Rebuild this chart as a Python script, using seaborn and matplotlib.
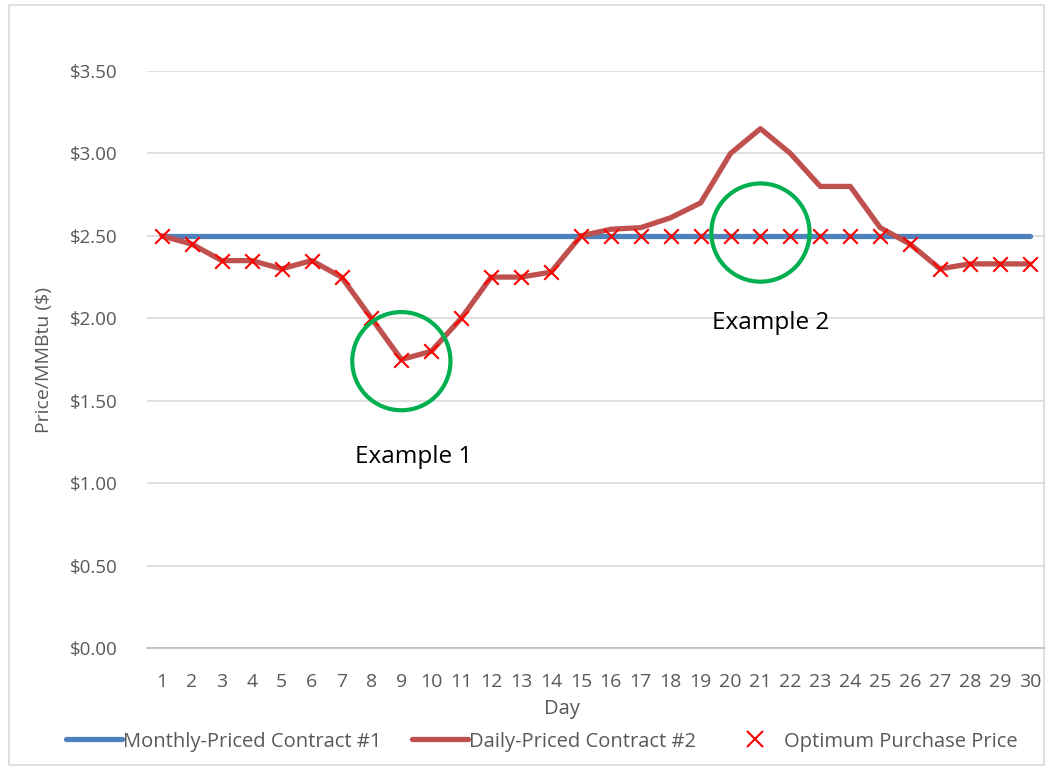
import seaborn as sns
import pandas as pd
import matplotlib.pyplot as plt
from matplotlib.lines import Line2D
from matplotlib.patches import Rectangle
from matplotlib.ticker import FuncFormatter

days = list(range(1, 31))
monthly_price = [2.50] * 30
daily_price = [2.50, 2.45, 2.35, 2.35, 2.30, 2.35, 2.25, 2.00, 1.75, 1.80,
               2.00, 2.25, 2.25, 2.28, 2.50, 2.54, 2.55, 2.61, 2.70, 3.00,
               3.15, 3.00, 2.80, 2.80, 2.55, 2.45, 2.30, 2.33, 2.33, 2.33]
optimum_price = [2.50, 2.45, 2.35, 2.35, 2.30, 2.35, 2.25, 2.00, 1.75, 1.80,
                 2.00, 2.25, 2.25, 2.28, 2.50, 2.50, 2.50, 2.50, 2.50, 2.50,
                 2.50, 2.50, 2.50, 2.50, 2.50, 2.45, 2.30, 2.33, 2.33, 2.33]
example_days = [9, 21]
example_prices = [1.74, 2.52]
example_labels = ["Example 1", "Example 2"]
label_pos = [(9.42, 1.16), (21.35, 1.97)]

df = pd.DataFrame({"Day": days, "Monthly": monthly_price,
                   "Daily": daily_price, "Optimum": optimum_price})

sns.set_theme(style="white")
plt.rcParams['font.family'] = ['Open Sans', 'DejaVu Sans']
text_col = "#595959"

fig = plt.figure(figsize=(10.5, 7.7), dpi=100)
ax = fig.add_axes([0.14, 0.1584, 0.855, 0.7494])

blue = "#4F81BD"
red = "#C0504D"
sns.lineplot(data=df, x="Day", y="Monthly", ax=ax, color=blue, linewidth=3.8,
             solid_capstyle="round", zorder=3)
sns.lineplot(data=df, x="Day", y="Daily", ax=ax, color=red, linewidth=3.8,
             solid_capstyle="round", zorder=4)
sns.scatterplot(data=df, x="Day", y="Optimum", ax=ax, marker="x", color="#FF0000",
                s=110, linewidth=1.5, zorder=5)

# highlight circles
ax.scatter(example_days, example_prices, s=5000, facecolors="none",
           edgecolors="#00B050", linewidths=3, zorder=6)
for lab, (lx, ly) in zip(example_labels, label_pos):
    ax.text(lx, ly, lab, ha="center", va="center", fontsize=17.5, color="black")

ax.set_xlim(0.5, 30.5)
ax.set_ylim(0, 3.5)
ax.set_xticks(days)
ax.set_yticks([0, 0.5, 1.0, 1.5, 2.0, 2.5, 3.0, 3.5])
ax.yaxis.set_major_formatter(FuncFormatter(lambda v, p: f"${v:.2f}"))
ax.grid(axis="y", color="#D9D9D9", linewidth=1.2)
ax.set_axisbelow(True)
for s in ["top", "right", "left"]:
    ax.spines[s].set_visible(False)
ax.spines["bottom"].set_color("#BFBFBF")
ax.tick_params(axis="both", length=0, colors=text_col)
ax.tick_params(axis="x", pad=18, labelsize=14)
ax.tick_params(axis="y", pad=21, labelsize=13.5)
ax.set_xlabel("Day", fontsize=14.5, color=text_col, labelpad=2)
ax.xaxis.set_label_coords(0.462, -0.088)
ax.set_ylabel("Price/MMBtu ($)", fontsize=14, color=text_col, labelpad=12)

handles = [
    Line2D([], [], color=blue, linewidth=3.8),
    Line2D([], [], color=red, linewidth=3.8),
    Line2D([], [], color="#FF0000", marker="x", linestyle="none",
           markersize=11, markeredgewidth=1.5),
]
fig.legend(handles, ["Monthly-Priced Contract #1", "Daily-Priced Contract #2",
                     "Optimum Purchase Price"],
           loc="center", bbox_to_anchor=(0.516, 0.037), ncol=3, frameon=False,
           fontsize=14.5, handlelength=2.8, handletextpad=0.05, columnspacing=1.5,
           labelcolor=text_col)

fig.patches.append(Rectangle((0.009, 0.006), 0.985, 0.988, transform=fig.transFigure,
                             fill=False, edgecolor="#D9D9D9", linewidth=1.2))

fig.savefig("out.png", dpi=100)
